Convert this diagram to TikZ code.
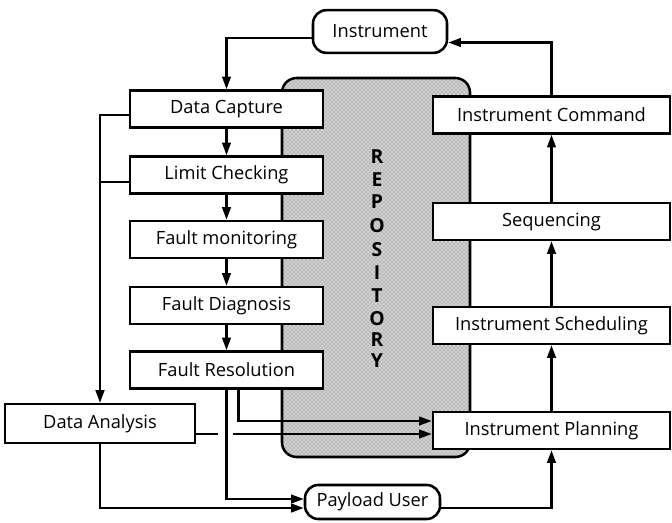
\documentclass[tikz,border=0pt]{standalone}
\usepackage{fontspec}
\setmainfont{Open Sans}
\usetikzlibrary{arrows.meta,calc,patterns}
\begin{document}
\begin{tikzpicture}[x=0.75pt,y=-0.75pt,
  box/.style={draw, line width=1.9pt, fill=white, minimum height=27.75pt, inner sep=0pt, font=\fontsize{13.7}{15}\selectfont},
  lbox/.style={box, minimum width=144.75pt},
  rbox/.style={box, minimum width=177.75pt},
  term/.style={box, rounded corners=10pt},
  arr/.style={line width=1.6pt, -{Triangle[length=9.5pt,width=6.5pt]}},
  ln/.style={line width=1.6pt},
  repo/.style={font=\fontsize{14.5}{16}\bfseries\selectfont, inner sep=0pt}
]
\useasboundingbox (0,0) rectangle (672,522);
% repository
\fill[gray!35, rounded corners=11pt] (282,78) rectangle (470,457);
\fill[pattern=crosshatch dots, pattern color=black!60, rounded corners=11pt] (282,78) rectangle (470,457);
\draw[line width=1.9pt, rounded corners=11pt] (282,78) rectangle (470,457);
\foreach \l/\yy [count=\i] in {R/157,E/180,P/202,O/226,S/250,I/273,T/296,O/319,R/340,Y/361}
  \node[repo] (rl\i) at (377,\yy) {\l};
% nodes
\node[term, minimum width=100.5pt, minimum height=32pt] (ins) at (380,31.5) {Instrument};
\node[lbox] (dc) at (226.5,109) {Data Capture};
\node[lbox] (lc) at (226.5,175) {Limit Checking};
\node[lbox] (fm) at (226.5,239.5) {Fault monitoring};
\node[lbox] (fd) at (226.5,305.5) {Fault Diagnosis};
\node[lbox] (fr) at (226.5,370) {Fault Resolution};
\node[box, minimum width=142.5pt, minimum height=29pt] (da) at (100,423.5) {Data Analysis};
\node[rbox] (ic) at (551.5,115) {Instrument Command};
\node[rbox] (sq) at (551.5,221.5) {Sequencing};
\node[rbox] (is) at (551.5,325.5) {Instrument Scheduling};
\node[rbox] (ip) at (551.5,430.5) {Instrument Planning};
\node[term, minimum width=101.25pt, minimum height=25.5pt] (pu) at (372.5,502) {Payload User};
% connectors
\draw[arr] ($(ins.west)+(0,6.5)$) -| (dc.north);
\draw[arr] (ic.north) |- ($(ins.east)+(0,11)$);
\draw[arr] (dc) -- (lc);
\draw[arr] (lc) -- (fm);
\draw[arr] (fm) -- (fd);
\draw[arr] (fd) -- (fr);
\draw[arr] ($(dc.west)+(0,6)$) -| (da.north);
\draw[ln] ($(lc.west)+(0,7)$) -- ($(lc.west -| da.north)+(0,7)$);
\draw[arr] (da.south) |- ($(pu.west)+(0,6)$);
\draw[arr] (fr.south) |- ($(pu.west)+(0,-3)$);
\draw[arr] ($(fr.south)+(12,0)$) |- ($(ip.west)+(0,-9.5)$);
\draw[ln] ($(da.east)+(0,10.5)$) -- ($(fr.south |- da.east)+(-9,10.5)$);
\draw[arr] ($(fr.south |- da.east)+(6,10.5)$) -- ($(ip.west)+(0,3.5)$);
\draw[arr] ($(pu.east)+(0,6)$) -| (ip.south);
\draw[arr] (ip) -- (is);
\draw[arr] (is) -- (sq);
\draw[arr] (sq) -- (ic);
\end{tikzpicture}
\end{document}
